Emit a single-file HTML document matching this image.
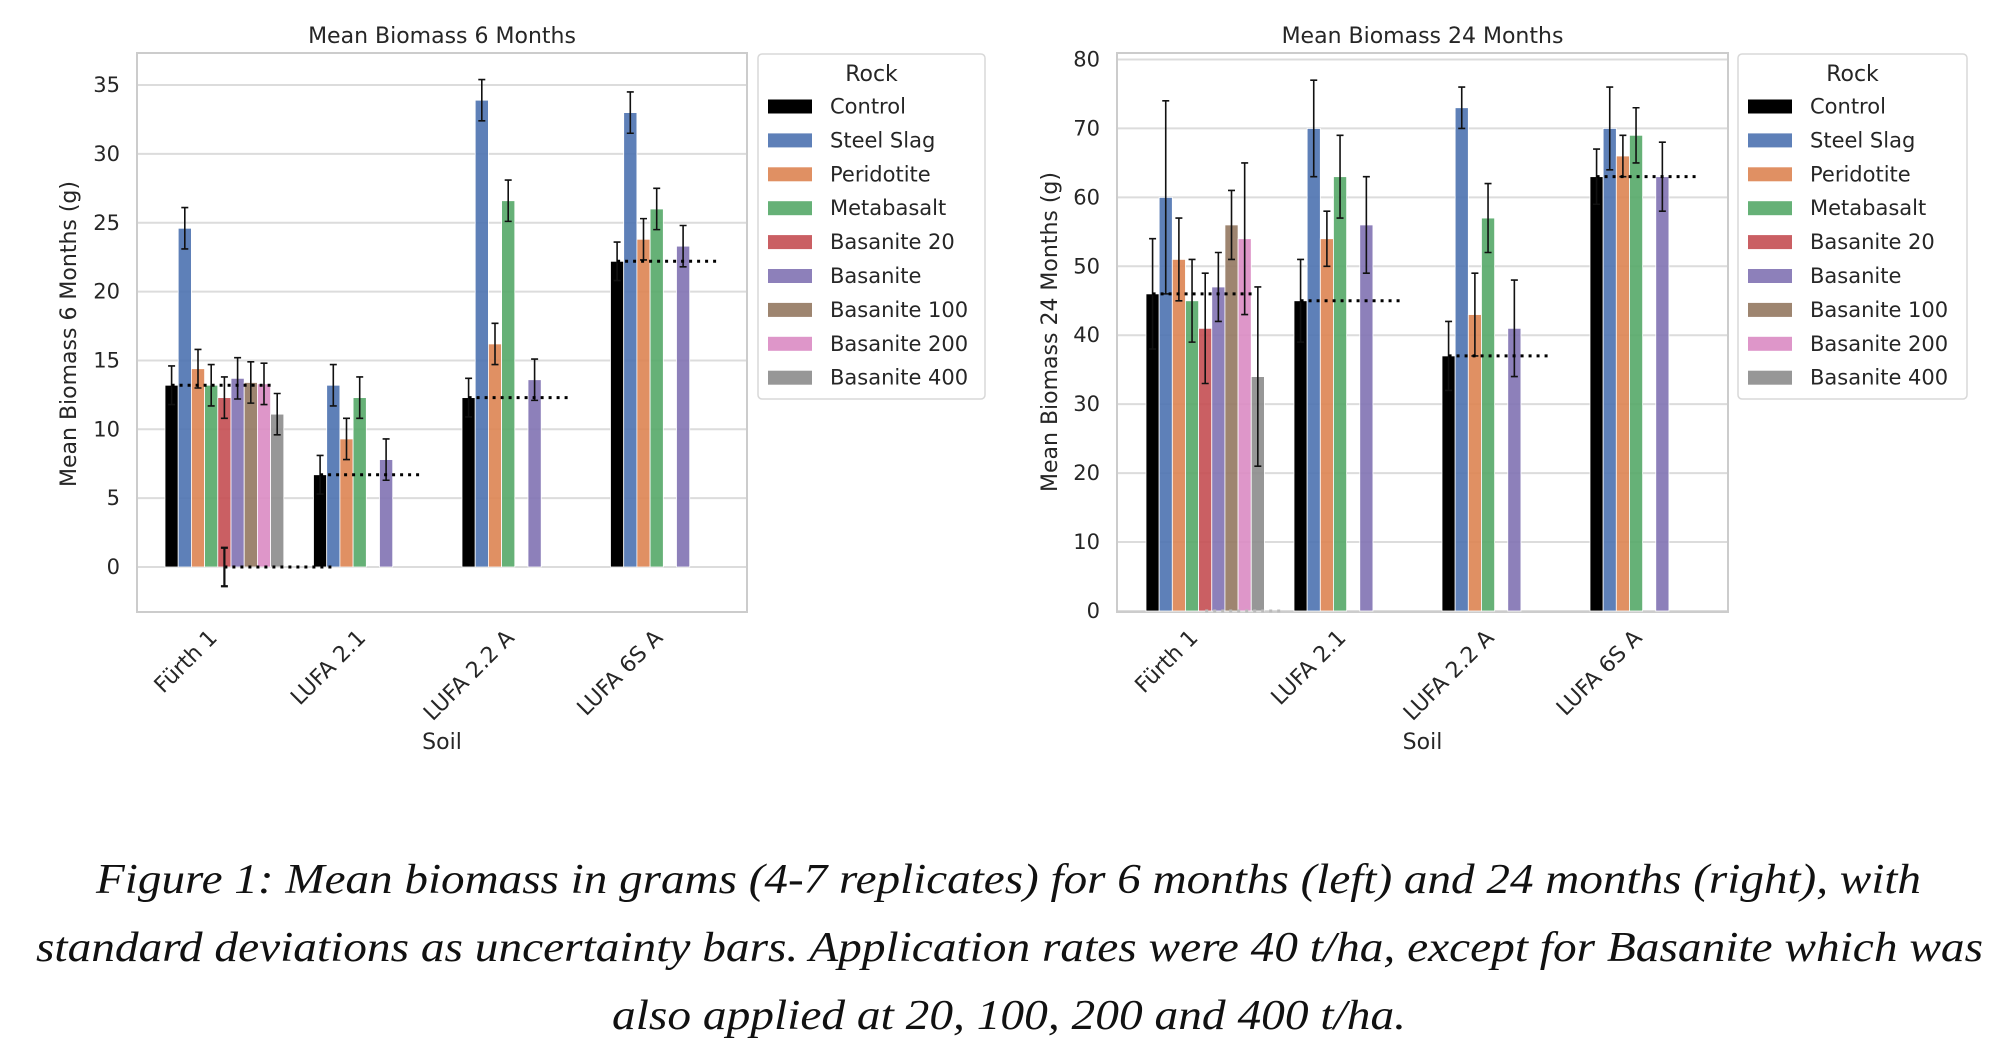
<!DOCTYPE html>
<html><head><meta charset="utf-8"><style>
html,body{margin:0;padding:0;background:#fff;}
svg{display:block;}
text{font-family:"DejaVu Sans","Liberation Sans",sans-serif;fill:#262626;}
.cap{font-family:"Liberation Serif",serif;font-style:italic;fill:#111;font-size:42px;}
</style></head><body>
<svg id="fig" width="1999" height="1063" viewBox="0 0 1999 1063" xmlns="http://www.w3.org/2000/svg">
<text class="cap" x="96" y="893" textLength="1825" lengthAdjust="spacingAndGlyphs">Figure 1: Mean biomass in grams (4-7 replicates) for 6 months (left) and 24 months (right), with</text>
<text class="cap" x="36" y="961" textLength="1947" lengthAdjust="spacingAndGlyphs">standard deviations as uncertainty bars. Application rates were 40 t/ha, except for Basanite which was</text>
<text class="cap" x="612" y="1029" textLength="794" lengthAdjust="spacingAndGlyphs">also applied at 20, 100, 200 and 400 t/ha.</text>
</svg>
<script>
const soils = ["Fürth 1","LUFA 2.1","LUFA 2.2 A","LUFA 6S A"];
const rocks = ["Control","Steel Slag","Peridotite","Metabasalt","Basanite 20","Basanite","Basanite 100","Basanite 200","Basanite 400"];
const colors = ["#000000","#4c72b0","#dd8452","#55a868","#c44e52","#8172b3","#937860","#da8bc3","#8c8c8c"];
// 6 months: values[soil][rock]
const mean6 = [
 [13.2,24.6,14.4,13.2,12.3,13.7,13.4,13.3,11.1],
 [6.7,13.2,9.3,12.3,null,7.8,null,null,null],
 [12.3,33.9,16.2,26.6,null,13.6,null,null,null],
 [22.2,33.0,23.8,26.0,null,23.3,null,null,null]
];
const sd6 = [
 [1.4,1.5,1.4,1.5,1.5,1.5,1.5,1.5,1.5],
 [1.4,1.5,1.5,1.5,null,1.5,null,null,null],
 [1.4,1.5,1.5,1.5,null,1.5,null,null,null],
 [1.4,1.5,1.5,1.5,null,1.5,null,null,null]
];
const ticks6 = [0,5,10,15,20,25,30,35];
const mean24 = [
 [46,60,51,45,41,47,56,54,34],
 [45,70,54,63,null,56,null,null,null],
 [37,73,43,57,null,41,null,null,null],
 [63,70,66,69,null,63,null,null,null]
];
const sd24 = [
 [8,14,6,6,8,5,5,11,13],
 [6,7,4,6,null,7,null,null,null],
 [5,3,6,5,null,7,null,null,null],
 [4,6,3,4,null,5,null,null,null]
];
const ticks24 = [0,10,20,30,40,50,60,70,80];

const NS="http://www.w3.org/2000/svg";
const svg=document.getElementById('fig');
function mk(tag,attrs,parent){const e=document.createElementNS(NS,tag);for(const k in attrs)e.setAttribute(k,attrs[k]);(parent||svg).appendChild(e);return e;}

function chart(cfg){
 const g=mk('g',{});
 
 
 const y=v=>cfg.y0-(v-0)*cfg.ppu;
 const x0=i=>cfg.gx0+i*cfg.gsp;
 const bw=cfg.gsp*0.8/9;
 cfg.ticks.forEach(t=>{
  const gl=mk('line',{x1:cfg.L,x2:cfg.R,y1:y(t),y2:y(t),stroke:'#dcdcdc','stroke-width':2},g);
  
  
  const tl=mk('text',{x:cfg.tickX,y:y(t)+7,'text-anchor':'end','font-size':21},g);
  tl.textContent=t;
  
  
 });
 const fr=mk('rect',{x:cfg.L,y:cfg.T,width:cfg.R-cfg.L,height:cfg.B-cfg.T,fill:'none',stroke:'#cccccc','stroke-width':2},g);
 
 
 cfg.mean.forEach((row,si)=>{
  row.forEach((v,ri)=>{
   if(v===null)return;
   const bx=x0(si)+ri*bw;
   const b=mk('rect',{x:bx,y:Math.min(y(v),y(0)),width:bw,height:Math.abs(y(0)-y(v)),fill:colors[ri],'fill-opacity':ri===0?1:0.9,stroke:'#fff','stroke-width':0.8},g);
   
   
   const s=cfg.sd[si][ri];
   const cx=bx+bw/2;
   const e=mk('path',{d:`M${cx} ${y(v+s)}V${y(v-s)}M${cx-3.5} ${y(v+s)}h7M${cx-3.5} ${y(v-s)}h7`,stroke:'#111','stroke-width':1.6,fill:'none'},g);
   
   
  });
  const c=row[0];
  const cx=x0(si)+bw/2;
  const d=mk('line',{x1:cx,x2:cx+103,y1:y(c),y2:y(c),stroke:'#000','stroke-width':3,'stroke-dasharray':'3 5'},g);
  
  
  const xl=mk('text',{x:0,y:0,'text-anchor':'end','font-size':22,transform:`translate(${x0(si)+cfg.gsp*0.4-6},${cfg.B+27}) rotate(-45)`},g);
  xl.textContent=soils[si];
  
  
 });
 if(cfg.extra){
  const bx=x0(0)+4.5*bw;
  const d=mk('line',{x1:bx,x2:bx+cfg.extra.len,y1:y(0),y2:y(0),stroke:cfg.extra.col,'stroke-width':3,'stroke-dasharray':'3 5'},g);
  
  
  if(cfg.extra.err){
   const e=mk('path',{d:`M${bx} ${y(1.4)}V${y(-1.4)}M${bx-3.5} ${y(1.4)}h7M${bx-3.5} ${y(-1.4)}h7`,stroke:'#111','stroke-width':2.2,fill:'none'},g);
   
   
  }
 }
 const ti=mk('text',{x:(cfg.L+cfg.R)/2,y:43,'text-anchor':'middle','font-size':22},g);
 ti.textContent=cfg.title;
 
 
 const yl=mk('text',{x:0,y:0,'text-anchor':'middle','font-size':22,transform:`translate(${cfg.ylx},${cfg.yly}) rotate(-90)`},g);
 yl.textContent=cfg.ytitle;
 
 
 const xt=mk('text',{x:(cfg.L+cfg.R)/2,y:749,'text-anchor':'middle','font-size':22},g);
 xt.textContent='Soil';
 
 
 const lg=mk('g',{},g);
 
 
 mk('rect',{x:cfg.lx,y:54,width:cfg.lw,height:345,rx:4,fill:'#fff',stroke:'#d8d8d8','stroke-width':1.5},lg);
 const lt=mk('text',{x:cfg.lx+cfg.lw/2,y:81,'text-anchor':'middle','font-size':22},lg);
 lt.textContent='Rock';
 
 
 rocks.forEach((r,i)=>{
  const ey=106.5+i*33.9;
  const sw=mk('rect',{x:cfg.lx+10,y:ey-7,width:44,height:14,fill:colors[i],'fill-opacity':i===0?1:0.9},lg);
  
  
  const t=mk('text',{x:cfg.lx+72,y:ey+7,'font-size':21},lg);
  t.textContent=r;
  
  
 });
}
chart({name:'chart-6-months',title:'Mean Biomass 6 Months',ytitle:'Mean Biomass 6 Months (g)',mean:mean6,sd:sd6,ticks:ticks6,
 L:137,R:747,T:53,B:612,y0:567,ppu:13.77,gx0:165,gsp:148.5,tickX:120,ylx:76,yly:334,lx:758,lw:227,
 extra:{len:108,col:'#000',err:true}});
chart({name:'chart-24-months',title:'Mean Biomass 24 Months',ytitle:'Mean Biomass 24 Months (g)',mean:mean24,sd:sd24,ticks:ticks24,
 L:1117,R:1728,T:53,B:612,y0:611,ppu:6.894,gx0:1146,gsp:148,tickX:1100,ylx:1057,yly:332,lx:1738,lw:229,
 extra:{len:80,col:'#bbbbbb',err:false}});
</script>
</body></html>
